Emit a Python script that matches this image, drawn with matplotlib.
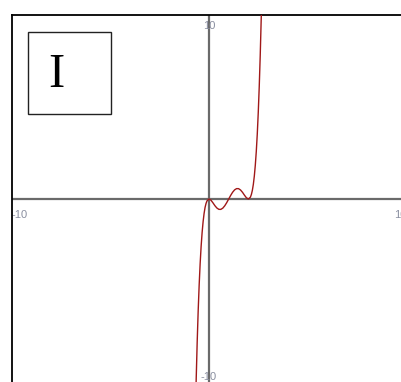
import matplotlib
matplotlib.use("Agg")
import matplotlib.pyplot as plt
from matplotlib.patches import Rectangle

# Sampled points of the plotted curve (x, y)
curve_x = [-0.68, -0.65, -0.6, -0.55, -0.5, -0.45, -0.4, -0.35, -0.3, -0.25, -0.2, -0.15, -0.1,
           0.0, 0.1, 0.2, 0.3, 0.4, 0.5, 0.6, 0.7, 0.8, 0.9, 1.0,
           1.1, 1.2, 1.3, 1.4, 1.5, 1.6, 1.7, 1.8, 1.9, 2.0,
           2.1, 2.15, 2.2, 2.25, 2.3, 2.35, 2.4, 2.45, 2.5, 2.55, 2.6, 2.65, 2.68]
curve_y = [-11.16, -9.79, -7.79, -6.10, -4.69, -3.52, -2.58, -1.83, -1.24, -0.79, -0.46, -0.24, -0.10,
           0.0, -0.065, -0.207, -0.364, -0.49, -0.5625, -0.564, -0.497, -0.369, -0.196, 0.0,
           0.196, 0.369, 0.497, 0.564, 0.5625, 0.49, 0.364, 0.207, 0.065, 0.0,
           0.097, 0.24, 0.465, 0.79, 1.24, 1.83, 2.58, 3.52, 4.69, 6.10, 7.79, 9.79, 11.16]

x_range = (-10, 10)
y_range = (-10, 10)
tick_text_x = ["-10", "10"]
tick_text_y = ["10", "-10"]
panel_label = "I"

W, H = 401, 382
fig = plt.figure(figsize=(W / 100, H / 100), dpi=100)
fig.patch.set_facecolor("white")

# axes box spans x in [12, 406] px and y in [15, 383] px (top-down)
left, right, top, bottom = 12, 406, 15, 383
ax = fig.add_axes([left / W, (H - bottom) / H, (right - left) / W, (bottom - top) / H])
ax.set_xlim(*x_range)
ax.set_ylim(*y_range)
ax.set_xticks([])
ax.set_yticks([])
for s in ("right", "bottom"):
    ax.spines[s].set_visible(False)
for s in ("top", "left"):
    ax.spines[s].set_color("black")
    ax.spines[s].set_linewidth(1.3)

ax.axhline(0, color="#6a6a6a", lw=1.6, zorder=1)
ax.axvline(0, color="#6a6a6a", lw=1.6, zorder=1)

ax.plot(curve_x, curve_y, color="#a01818", lw=1.0, zorder=3)

lbl = dict(fontsize=8, color="#8a8fa0", family="Liberation Sans", zorder=2)
ax.text(x_range[0], -1.03, tick_text_x[0], ha="left", va="baseline", **lbl)
ax.text(x_range[1], -1.03, tick_text_x[1], ha="right", va="baseline", **lbl)
ax.text(0, 9.24, tick_text_y[0], ha="center", va="baseline", **lbl)
ax.text(0, -9.84, tick_text_y[1], ha="center", va="baseline", **lbl)

# panel label box
bx0, bx1, by0, by1 = 28, 110.5, 32, 114
fig.add_artist(Rectangle((bx0 / W, 1 - by1 / H), (bx1 - bx0) / W, (by1 - by0) / H,
                         transform=fig.transFigure, fill=True, facecolor="white",
                         edgecolor="#222222", lw=1.0, zorder=5))
fig.text(56.5 / W, 1 - 87 / H, panel_label, ha="center", va="baseline",
         fontsize=35, family="Liberation Serif", color="black", zorder=6)

fig.savefig("out.png", dpi=100, facecolor="white")
